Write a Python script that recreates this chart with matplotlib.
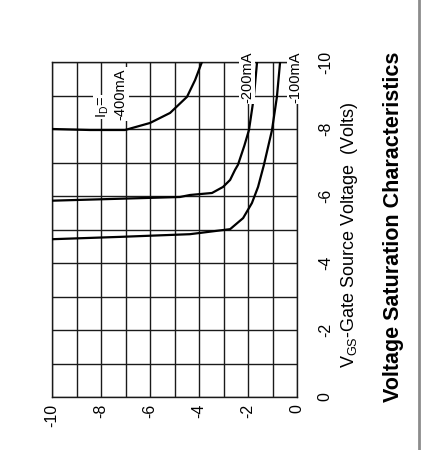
import matplotlib
matplotlib.use('Agg')
import matplotlib.pyplot as plt
from matplotlib.lines import Line2D

plt.rcParams['font.family'] = ['Liberation Sans', 'DejaVu Sans']
plt.rcParams['mathtext.fontset'] = 'custom'
plt.rcParams['mathtext.rm'] = 'Liberation Sans'

# curves: drain-source voltage (V) vs gate-source voltage (V)
vds_400 = [-10, -8.45, -7.02, -6.0, -5.18, -4.49, -4.16, -3.88]
vgs_400 = [-8.0, -7.97, -7.97, -8.18, -8.48, -8.96, -9.46, -10.0]

vds_200 = [-10, -4.78, -4.37, -3.47, -3.02, -2.73, -2.53, -2.41, -2.15, -1.96, -1.76, -1.63]
vgs_200 = [-5.86, -5.97, -6.03, -6.09, -6.27, -6.48, -6.78, -6.93, -7.5, -7.97, -8.96, -10.0]

vds_100 = [-10, -7.22, -4.37, -2.73, -2.2, -1.84, -1.59, -1.35, -1.02, -0.82, -0.69]
vgs_100 = [-4.71, -4.78, -4.86, -5.01, -5.34, -5.79, -6.27, -6.93, -7.97, -8.96, -10.0]

vds_ticks = [-10, -8, -6, -4, -2, 0]
vds_labels = ['-10', '-8', '-6', '-4', '-2', '0']
vgs_ticks = [0, -2, -4, -6, -8, -10]
vgs_labels = ['0', '-2', '-4', '-6', '-8', '-10']

fig = plt.figure(figsize=(4.22, 4.5), dpi=100)
ax = fig.add_axes([52/422, 53/450, 245/422, 335/450])

ax.set_xlim(-10, 0)
ax.set_ylim(0, -10)

ax.set_xticks(vds_ticks)
ax.set_xticklabels(vds_labels, rotation=90, fontsize=11.5)
ax.set_xticks(range(-9, 0, 2), minor=True)
ax.yaxis.tick_right()
ax.set_yticks(vgs_ticks)
ax.set_yticklabels(vgs_labels, rotation=90, fontsize=11.5, va='center')
ax.set_yticks(range(-9, 0, 2), minor=True)
ax.tick_params(which='both', length=0)
ax.tick_params(axis='x', pad=5)
ax.tick_params(axis='y', pad=15)

ax.grid(which='both', color='0.1', lw=1.0)
for sp in ax.spines.values():
    sp.set_color('0.1')
    sp.set_linewidth(1.0)

for vds, vgs in [(vds_400, vgs_400), (vds_200, vgs_200), (vds_100, vgs_100)]:
    ax.plot(vds, vgs, color='black', lw=1.6, zorder=3)

lbl = dict(rotation=90, rotation_mode='anchor', ha='left', va='center',
           fontsize=10.5, clip_on=False, zorder=4,
           bbox=dict(fc='white', ec='none', pad=1))
ax.text(-7.92, -8.33, r'I$_\mathregular{D}$=', **lbl)
ax.text(-7.22, -8.27, '-400mA', **lbl)
ax.text(-2.04, -8.78, '-200mA', **lbl)
ax.text(-0.08, -8.78, '-100mA', **lbl)

fig.text(349/422, 1 - 235/450, r'V$_\mathregular{GS}$-Gate Source Voltage  (Volts)',
         rotation=90, ha='center', va='center', fontsize=13)
fig.text(394/422, 1 - 227/450, 'Voltage Saturation Characteristics',
         rotation=90, ha='center', va='center', fontsize=15.5, fontweight='bold')

fig.add_artist(Line2D([419/422, 419/422], [0, 1], color='0.55', lw=2))

fig.savefig('out.png', dpi=100)
